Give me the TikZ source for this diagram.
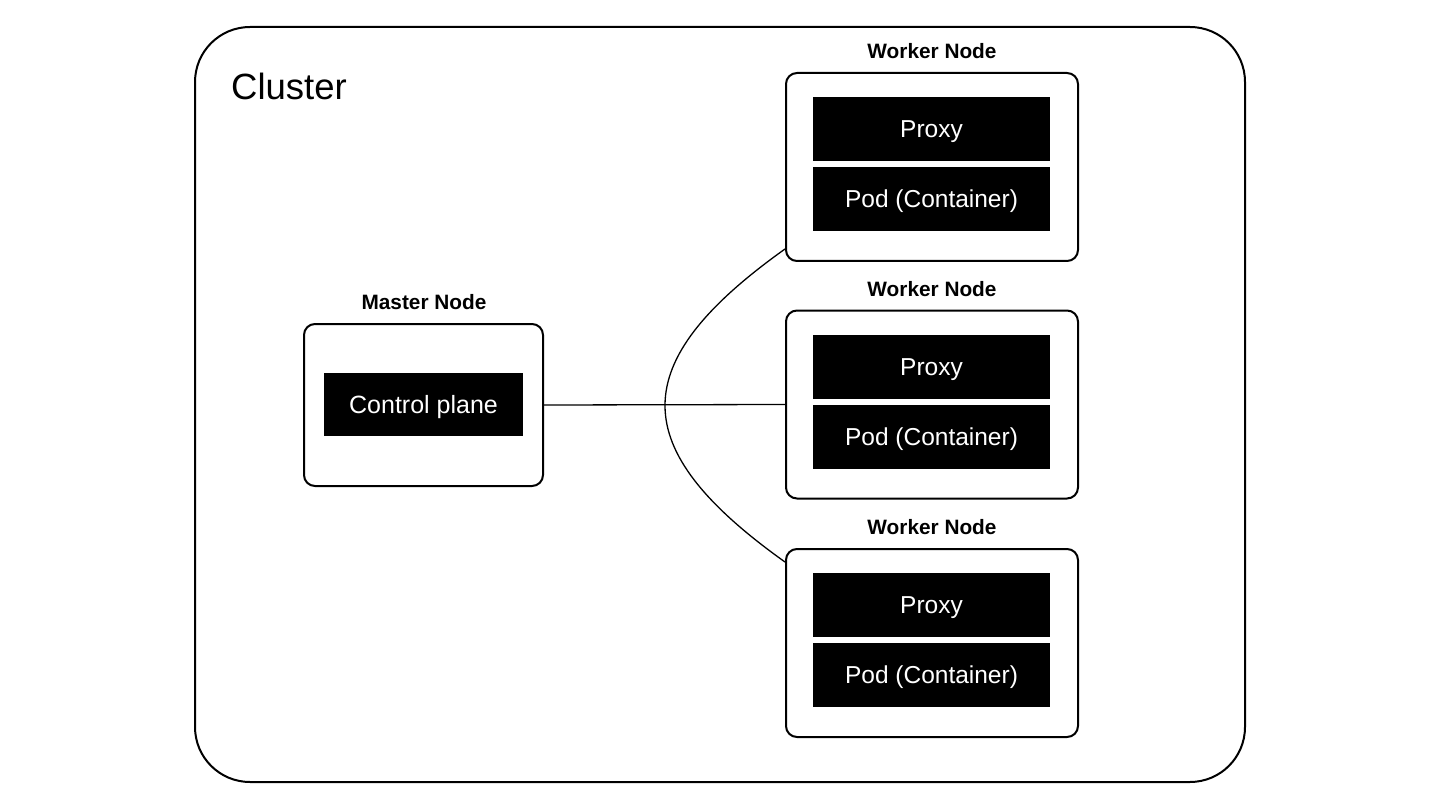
\documentclass[tikz,border=0pt]{standalone}
\usepackage{fontspec}
\setmainfont{Liberation Sans}
\begin{document}
\begin{tikzpicture}[x=1pt,y=-1pt,
  cluster/.style={draw=black, line width=2pt, rounded corners=55pt, minimum width=1050pt, minimum height=755pt, inner sep=0pt},
  hostbox/.style={draw=black, line width=2pt, rounded corners=11pt, inner sep=0pt},
  darkbox/.style={fill=black, text=white, inner sep=0pt, text height=17.5pt, text depth=0pt, font=\fontsize{24.5}{28}\selectfont},
  hostlabel/.style={inner sep=0pt, text height=14.8pt, text depth=0pt, font=\fontsize{20.8}{24}\selectfont\bfseries},
  link/.style={draw=black, line width=1.3pt}]
\useasboundingbox (0,0) rectangle (1440,810);
\node[cluster] (cl) at (720,404.5) {};
\node[inner sep=0pt, anchor=west, text height=26pt, text depth=0pt, font=\fontsize{36.5}{40}\selectfont] (cltitle) at (231,87) {Cluster};

% Master
\node[hostbox, minimum width=239pt, minimum height=162pt] (mn) at (423.5,405) {};
\node[darkbox, minimum width=199pt, minimum height=63pt, font=\fontsize{25}{28}\selectfont] (cp) at (423.5,404.5) {Control plane};
\node[hostlabel] (mnl) at (424,302) {Master Node};

% Workers
\foreach \i/\cy/\py/\dy/\ly in {1/167/129/199/51, 2/404.5/367/437/289, 3/643/605/675/527}{
  \node[hostbox, minimum width=292pt, minimum height=188pt] (w\i) at (932,\cy) {};
  \node[darkbox, minimum width=237pt, minimum height=64pt] (px\i) at (931.5,\py) {Proxy};
  \node[darkbox, minimum width=237pt, minimum height=64pt] (pd\i) at (931.5,\dy) {Pod (Container)};
  \node[hostlabel] (wl\i) at (932,\ly) {Worker Node};
}

% Connectors
\draw[link] (mn.east) -- (w2.west);
\draw[link] ([yshift=13pt]w1.south west) .. controls +(-160,114) and +(-160,-114) .. ([yshift=-14pt]w3.north west);
\end{tikzpicture}
\end{document}
